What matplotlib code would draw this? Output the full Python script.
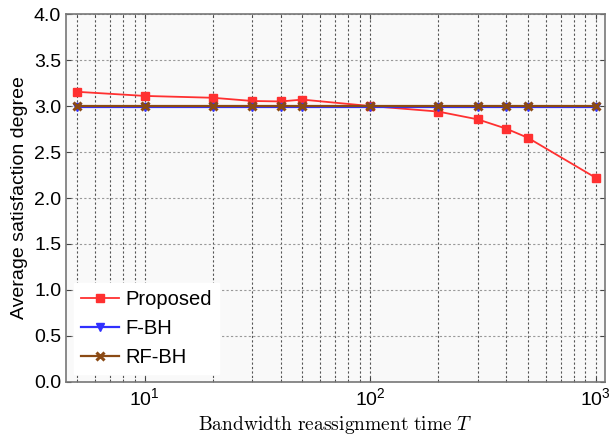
import numpy as np
import matplotlib.pyplot as plt

# data
T = [5, 10, 20, 30, 40, 50, 100, 200, 300, 400, 500, 1000]
proposed = [3.155, 3.11, 3.09, 3.055, 3.05, 3.07, 3.0, 2.94, 2.855, 2.755, 2.655, 2.22]
fbh = [2.99, 2.99, 2.99, 2.99, 2.99, 2.99, 2.99, 2.99, 2.99, 2.99, 2.99, 2.99]
rfbh = [3.0, 3.0, 3.0, 3.0, 3.0, 3.0, 3.0, 3.0, 3.0, 3.0, 3.0, 3.0]

plt.rcParams['font.family'] = ['Liberation Sans', 'DejaVu Sans']
plt.rcParams['mathtext.fontset'] = 'cm'

fig = plt.figure(figsize=(6.13, 4.40), dpi=100)
ax = fig.add_axes([0.1077, 0.132, 0.8793, 0.836])
ax.set_facecolor('#f9f9f9')

ax.plot(T, proposed, color='#ff3030', marker='s', markersize=5.5, lw=1.3, label='Proposed', zorder=3)
ax.plot(T, fbh, color='#3030ff', marker='v', markersize=5.5, lw=1.6, label='F-BH', zorder=4)
ax.plot(T, rfbh, color='#8b4a14', marker='x', markersize=6, mew=2.2, lw=1.6, label='RF-BH', zorder=5)

ax.set_xscale('log')
ax.set_xlim(4.47, 1100)
ax.set_ylim(0, 4)
ax.set_yticks(np.arange(0, 4.01, 0.5))
ax.grid(True, which='both', axis='x', color='#555555', linestyle=(0, (2, 2)), linewidth=0.8)
ax.grid(True, which='major', axis='y', color='#999999', linestyle=(0, (2, 2)), linewidth=0.8)
ax.tick_params(which='both', direction='in', top=True, right=True, colors='#444444',
               labelcolor='black', labelsize=14)
for s in ax.spines.values():
    s.set_color('#777777')
    s.set_linewidth(1.2)

ax.set_xlabel(r'$\mathrm{Bandwidth\ reassignment\ time}\ T$', fontsize=14)
ax.set_ylabel('Average satisfaction degree', fontsize=14)

leg = ax.legend(loc='lower left', fontsize=14.5, frameon=True, fancybox=False,
                handlelength=1.9, handletextpad=0.3, borderpad=0.35, borderaxespad=0.4,
                labelspacing=0.5)
leg.get_frame().set_edgecolor('white')
leg.get_frame().set_facecolor('white')
leg.get_frame().set_alpha(1)

fig.savefig('out.png', dpi=100)
